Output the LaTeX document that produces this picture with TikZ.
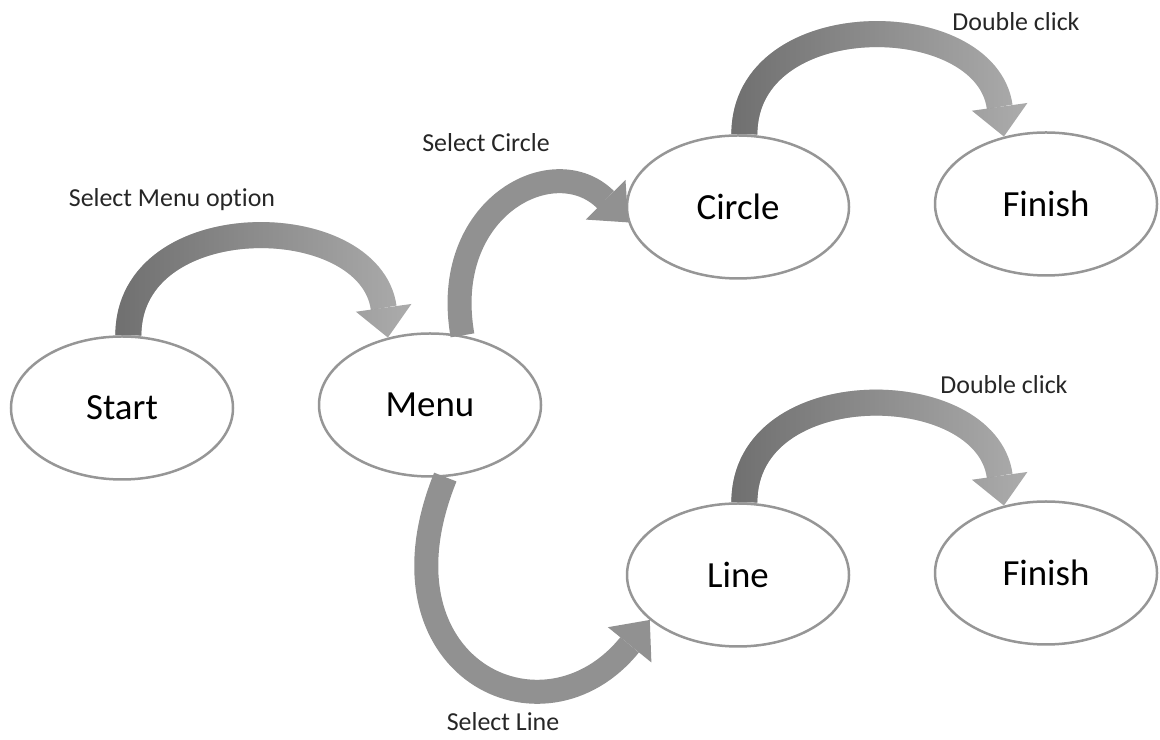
\documentclass[tikz,border=0pt]{standalone}
\usepackage{fontspec}
\setmainfont{Carlito}[Ligatures=NoCommon]
\usepackage{tikz}
\usetikzlibrary{shapes.geometric, arrows.meta, fadings}
\definecolor{rimgray}{RGB}{150,150,150}
\definecolor{flowlight}{RGB}{170,170,170}
\definecolor{flowdark}{RGB}{112,112,112}
\definecolor{flowmid}{RGB}{145,145,145}
\tikzfading[name=faderight, left color=transparent!0, right color=transparent!100]
\tikzstyle{state} = [ellipse, draw=rimgray, line width=2.5bp, minimum width=222bp, minimum height=143bp, font=\fontsize{37}{42}\selectfont]
\tikzstyle{caption} = [font=\fontsize{26}{30}\selectfont, text=black!85]
\tikzstyle{flow} = [line width=26bp, draw=flowlight, -{Triangle[length=30bp, width=56bp, line width=0pt]}, postaction={draw=flowdark, path fading=faderight}]
\tikzstyle{flowplain} = [line width=24bp, draw=flowmid, -{Triangle[length=32bp, width=56bp, line width=0pt]}]

\begin{document}
\begin{tikzpicture}[x=1bp, y=1bp, node distance=308bp]
\useasboundingbox (0,0) rectangle (1160,740);
\node (start) [state] at (122,332) {Start};
\node (menu) [state, right of = start, yshift=3bp] {Menu};
\node (circ) [state, right of = menu, yshift=198bp] {Circle};
\node (line) [state, right of = menu, yshift=-170bp] {Line};
\node (finA) [state, right of = circ, yshift=3bp] {Finish};
\node (finB) [state, right of = line, yshift=2bp] {Finish};
\node (selmenu) [caption] at (172,540) {Select Menu option};
\node (selcirc) [caption] at (486,597) {Select Circle};
\node (selline) [caption] at (503,18) {Select Line};
\node (dblA) [caption] at (1016,718) {Double click};
\node (dblB) [caption] at (1004,355) {Double click};
\draw [flow] (start.85) .. controls +(90:130) and +(98:131) .. (menu.122);
\draw [flowplain] (menu.65) .. controls +(100:130) and +(135:105) .. (circ.188);
\draw [flowplain] (menu.-78) .. controls +(248:205) and +(231:170) .. (line.207);
\draw [flow] (circ.85) .. controls +(90:130) and +(98:131) .. (finA.122);
\draw [flow] (line.85) .. controls +(90:130) and +(98:131) .. (finB.122);
\end{tikzpicture}
\end{document}
